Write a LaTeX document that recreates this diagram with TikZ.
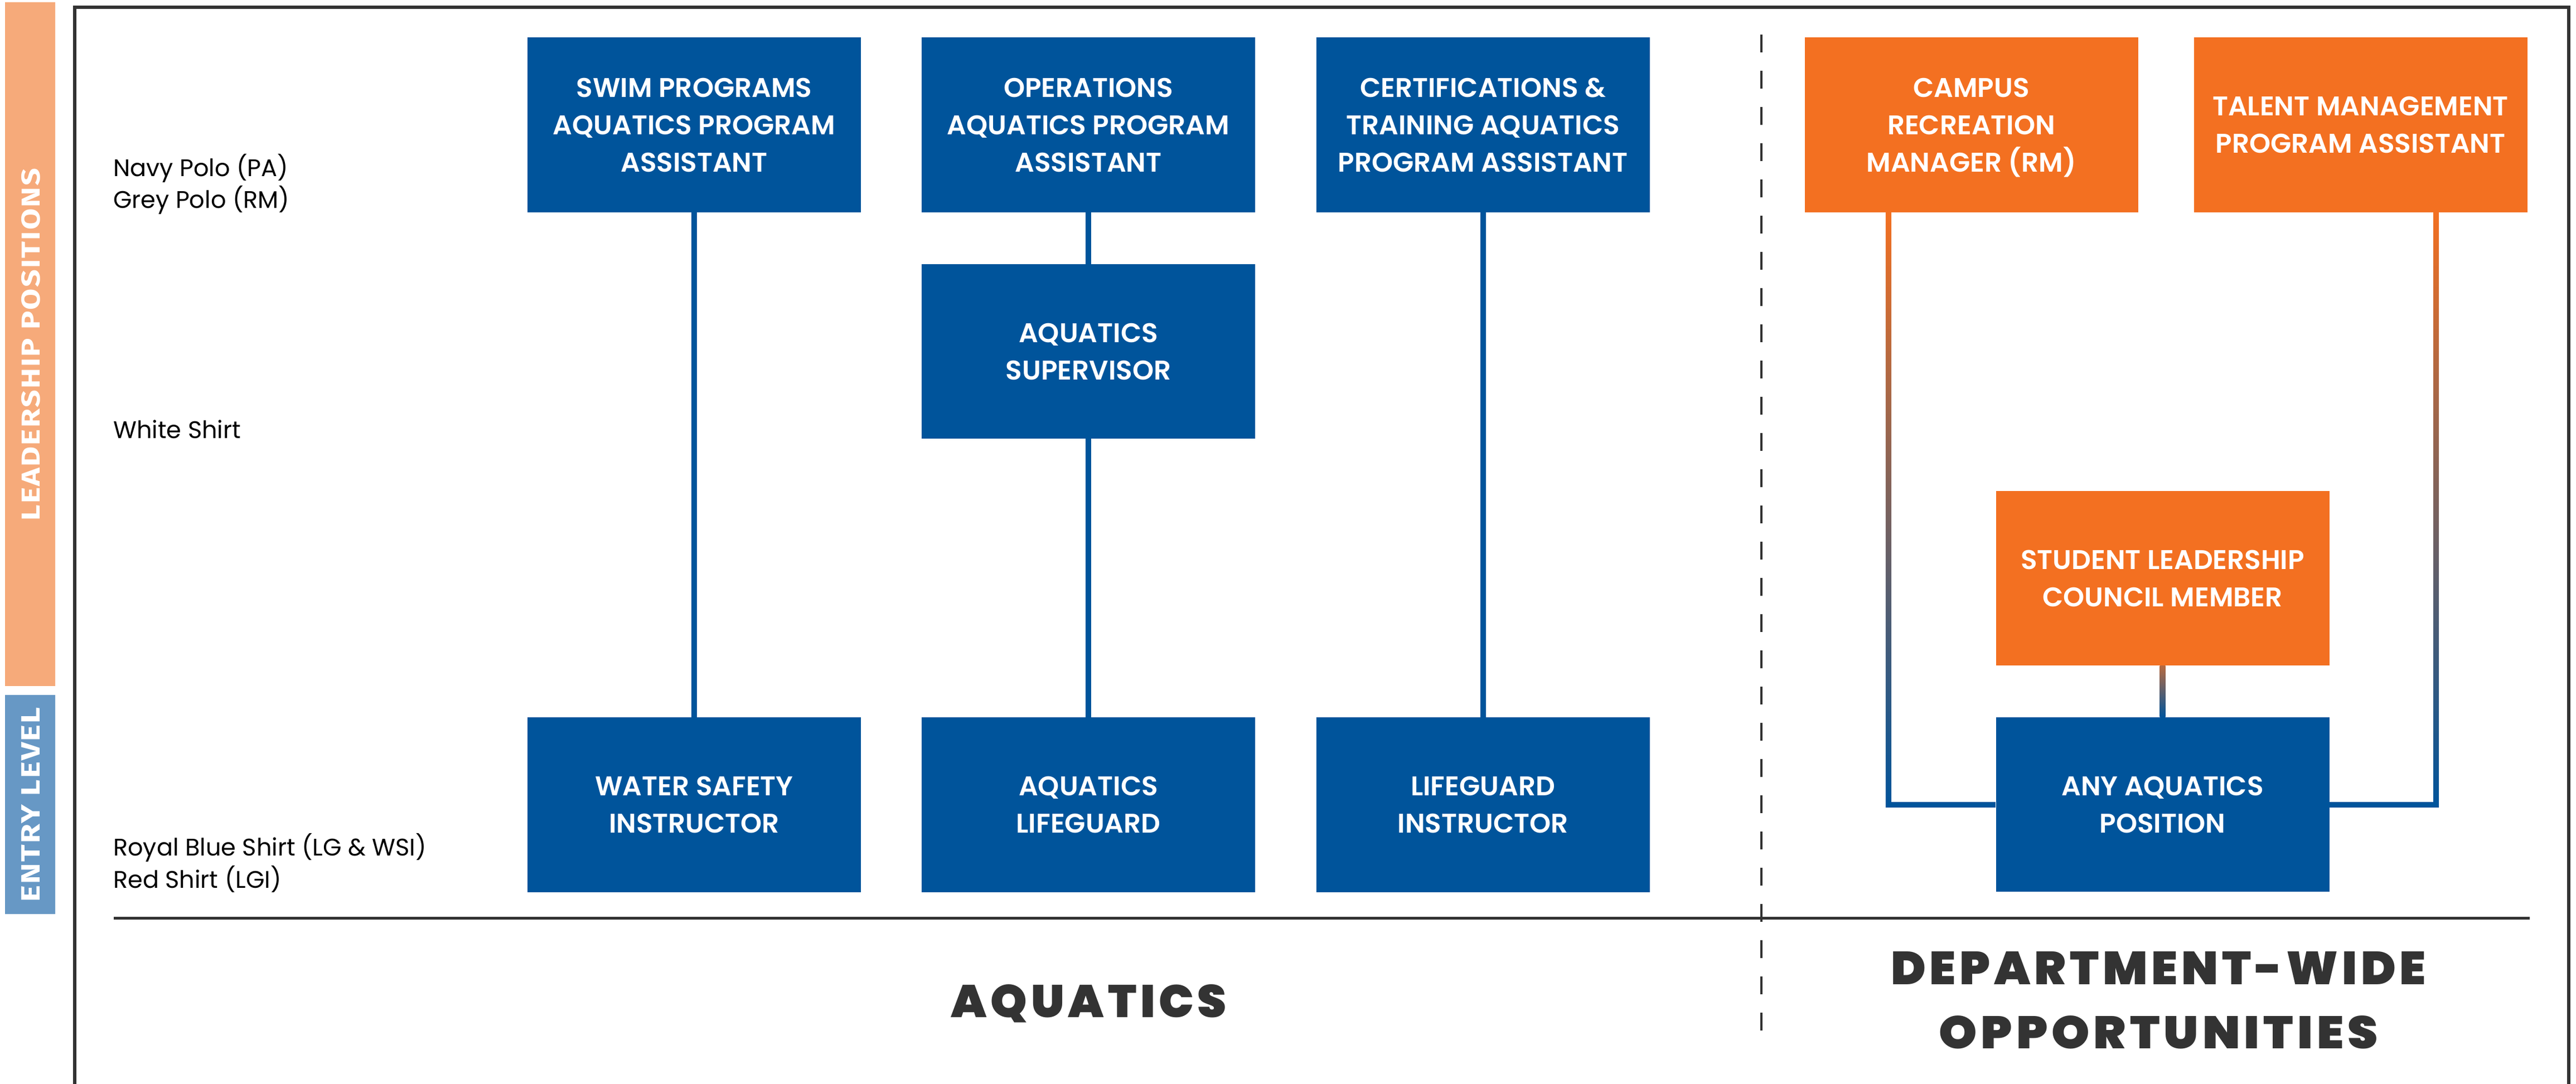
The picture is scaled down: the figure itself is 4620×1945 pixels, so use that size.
\documentclass[tikz,border=0pt]{standalone}
\usepackage{fontspec}
\usepackage{graphicx}
\usetikzlibrary{calc}
\setmainfont{Poppins}
\IfFontExistsTF{Poppins SemiBold}{\newfontfamily\boxfont{Poppins SemiBold}}{\newfontfamily\boxfont{Poppins}[FakeBold=1.2]}
\IfFontExistsTF{Poppins Black}{\newfontfamily\headfont{Poppins Black}[LetterSpace=8]}{\newfontfamily\headfont{Poppins}[FakeBold=4,LetterSpace=8]}
\newfontfamily\sidefontbase{Fira Sans}[LetterSpace=4]
\newcommand\sidefont{\sidefontbase\bfseries}

\definecolor{boxblue}{RGB}{0,84,155}
\definecolor{boxorange}{RGB}{243,112,33}
\definecolor{barorange}{RGB}{246,170,122}
\definecolor{barblue}{RGB}{103,152,197}
\definecolor{darkgrey}{RGB}{51,51,51}

\tikzset{
  box/.style={minimum width=598pt, minimum height=314pt, inner sep=0pt, text=white,
    align=center, font=\boxfont\fontsize{48.5}{67}\selectfont},
  bluebox/.style={box, fill=boxblue},
  orbox/.style={box, fill=boxorange},
  conn/.style={line width=10pt, draw=boxblue},
  shirt/.style={anchor=base west, inner sep=0pt, font=\fontsize{43}{57}\selectfont, text=black},
  heading/.style={anchor=base, inner sep=0pt, text=darkgrey, font=\headfont},
  sidelabel/.style={rotate=90, inner sep=0pt, text=white, font=\sidefont},
  frame/.style={line width=6pt, draw=darkgrey},
  dashline/.style={line width=4pt, draw=darkgrey, dash pattern=on 32pt off 33pt},
}

\begin{document}
\begin{tikzpicture}[x=1pt,y=-1pt]
\useasboundingbox (0,0) rectangle (4620,1945);

% side bars
\fill[barorange] (9,4) rectangle (99,1231);
\fill[barblue] (9,1247) rectangle (99,1640);
\node[sidelabel] (lp) at (55,618) {\resizebox{632pt}{33pt}{LEADERSHIP POSITIONS}};
\node[sidelabel] (el) at (55,1443.5) {\resizebox{349pt}{33pt}{ENTRY LEVEL}};

% frame
\draw[frame] (134,1980) -- (134,13.5) -- (4607,13.5) -- (4607,1980);

% dashed separator and divider
\draw[dashline] (3159,62) -- (3159,1872);
\draw[line width=5pt, draw=darkgrey] (204,1647) -- (4537,1647);

% shirt labels
\node[shirt] (s1) at (203,316) {Navy Polo (PA)};
\node[shirt] (s2) at (203,373) {Grey Polo (RM)};
\node[shirt] (s3) at (203,786) {White Shirt};
\node[shirt] (s4) at (203,1535) {Royal Blue Shirt (LG \& WSI)};
\node[shirt] (s5) at (203,1593) {Red Shirt (LGI)};

% aquatics boxes
\node[bluebox] (swim) at (1245,224) {SWIM PROGRAMS\\AQUATICS PROGRAM\\ASSISTANT};
\node[bluebox] (ops) at (1952,224) {OPERATIONS\\AQUATICS PROGRAM\\ASSISTANT};
\node[bluebox] (cert) at (2659.5,224) {CERTIFICATIONS \&\\TRAINING AQUATICS\\PROGRAM ASSISTANT};
\node[bluebox, minimum height=313pt] (sup) at (1952,630.5) {AQUATICS\\SUPERVISOR};
\node[bluebox] (wsi) at (1245,1444) {WATER SAFETY\\INSTRUCTOR};
\node[bluebox] (alg) at (1952,1444) {AQUATICS\\LIFEGUARD};
\node[bluebox] (lgi) at (2659.5,1444) {LIFEGUARD\\INSTRUCTOR};

\draw[conn] (swim) -- (wsi);
\draw[conn] (ops) -- (sup);
\draw[conn] (sup) -- (alg);
\draw[conn] (cert) -- (lgi);

% department-wide boxes
\node[orbox] (crm) at (3535.5,224) {CAMPUS\\RECREATION\\MANAGER \smash{(RM)}};
\node[orbox] (tm) at (4233.5,224) {TALENT MANAGEMENT\\PROGRAM ASSISTANT};
\node[orbox, minimum height=313pt] (slc) at (3878.5,1037.5) {STUDENT LEADERSHIP\\COUNCIL MEMBER};
\node[bluebox, minimum height=313pt] (any) at (3878.5,1443.5) {ANY AQUATICS\\POSITION};

\coordinate (cl) at ([xshift=-148.5pt]crm.south);
\coordinate (tr) at ([xshift=135.5pt]tm.south);
\shade[top color=boxorange, bottom color=boxblue] ($(cl)+(-5,0)$) rectangle ($(cl|-any.west)+(5,5)$);
\shade[top color=boxorange, bottom color=boxblue] ($(tr)+(-5,0)$) rectangle ($(tr|-any.east)+(5,5)$);
\draw[conn] (cl|-any.west) -- (any.west);
\draw[conn] (any.east) -- (tr|-any.east);
\shade[top color=boxorange!75!boxblue, bottom color=boxblue] ($(slc.south)+(-5,0)$) rectangle ($(any.north)+(5,0)$);

% headings
\node[heading] (aq) at (1953,1825) {\resizebox{494pt}{59pt}{AQUATICS}};
\node[heading] (dw1) at (3871,1766) {\resizebox{960pt}{59pt}{DEPARTMENT-WIDE}};
\node[heading] (dw2) at (3871,1881) {\resizebox{787pt}{59pt}{OPPORTUNITIES}};
\end{tikzpicture}
\end{document}
